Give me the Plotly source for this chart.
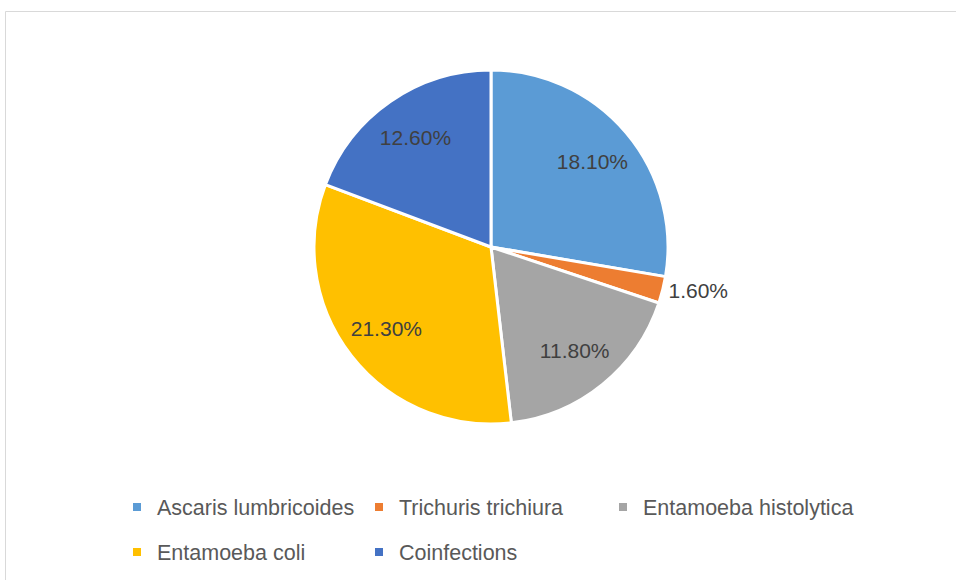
import plotly.graph_objects as go

labels = ["Ascaris lumbricoides", "Trichuris trichiura", "Entamoeba histolytica", "Entamoeba coli", "Coinfections"]
values = [18.10, 1.60, 11.80, 21.30, 12.60]
colors = ["#5B9BD5", "#ED7D31", "#A5A5A5", "#FFC000", "#4472C4"]
text_pos = ["inside", "outside", "inside", "inside", "inside"]

W, H = 956, 580
cx, cy, r = 491, 247, 177
dom = dict(x=[(cx - r) / W, (cx + r) / W], y=[1 - (cy + r) / H, 1 - (cy - r) / H])

fig = go.Figure()
# the solid pie
fig.add_trace(go.Pie(
    labels=labels, values=values, sort=False, direction="clockwise", rotation=0,
    marker=dict(colors=colors, line=dict(color="white", width=3)),
    textinfo="none", domain=dom, showlegend=False,
    hovertemplate="%{label}: %{value:.2f}%<extra></extra>",
))
# transparent ring on top that carries the data labels (places them further out)
fig.add_trace(go.Pie(
    labels=labels, values=values, sort=False, direction="clockwise", rotation=0,
    hole=0.5,
    marker=dict(colors=["rgba(0,0,0,0)"] * len(values), line=dict(width=0)),
    texttemplate="%{value:.2f}%",
    textposition=text_pos,
    insidetextorientation="horizontal",
    textfont=dict(family="Liberation Sans", size=21, color="#404040"),
    domain=dom, showlegend=False, hoverinfo="skip",
))

# legend entries laid out in Excel-like columns
leg_x = [117, 359, 603, 117, 359]
leg_y = [507, 507, 507, 552, 552]
legend_layout = {}
for i, (lab, col) in enumerate(zip(labels, colors)):
    key = "legend" if i == 0 else f"legend{i + 1}"
    fig.add_trace(go.Scatter(
        x=[None], y=[None], mode="markers", name=lab,
        marker=dict(symbol="square", size=8, color=col),
        legend=key, showlegend=True, hoverinfo="skip",
    ))
    legend_layout[key] = dict(
        x=leg_x[i] / W, xanchor="left",
        y=1 - leg_y[i] / H, yanchor="middle",
        font=dict(family="Liberation Sans", size=21.5, color="#595959"),
        bgcolor="rgba(0,0,0,0)", itemwidth=30,
    )

fig.update_layout(
    width=W, height=H,
    margin=dict(l=0, r=0, t=0, b=0, autoexpand=False),
    paper_bgcolor="white", plot_bgcolor="white",
    xaxis=dict(visible=False), yaxis=dict(visible=False),
    shapes=[dict(type="rect", xref="paper", yref="paper",
                 x0=5.5 / W, x1=1.02, y0=-0.02, y1=1 - 11.5 / H,
                 line=dict(color="#D9D9D9", width=1), fillcolor="rgba(0,0,0,0)")],
    **legend_layout,
)

fig.write_html("out.html", config={"displayModeBar": False},
               post_script="document.body.style.margin='0';")
